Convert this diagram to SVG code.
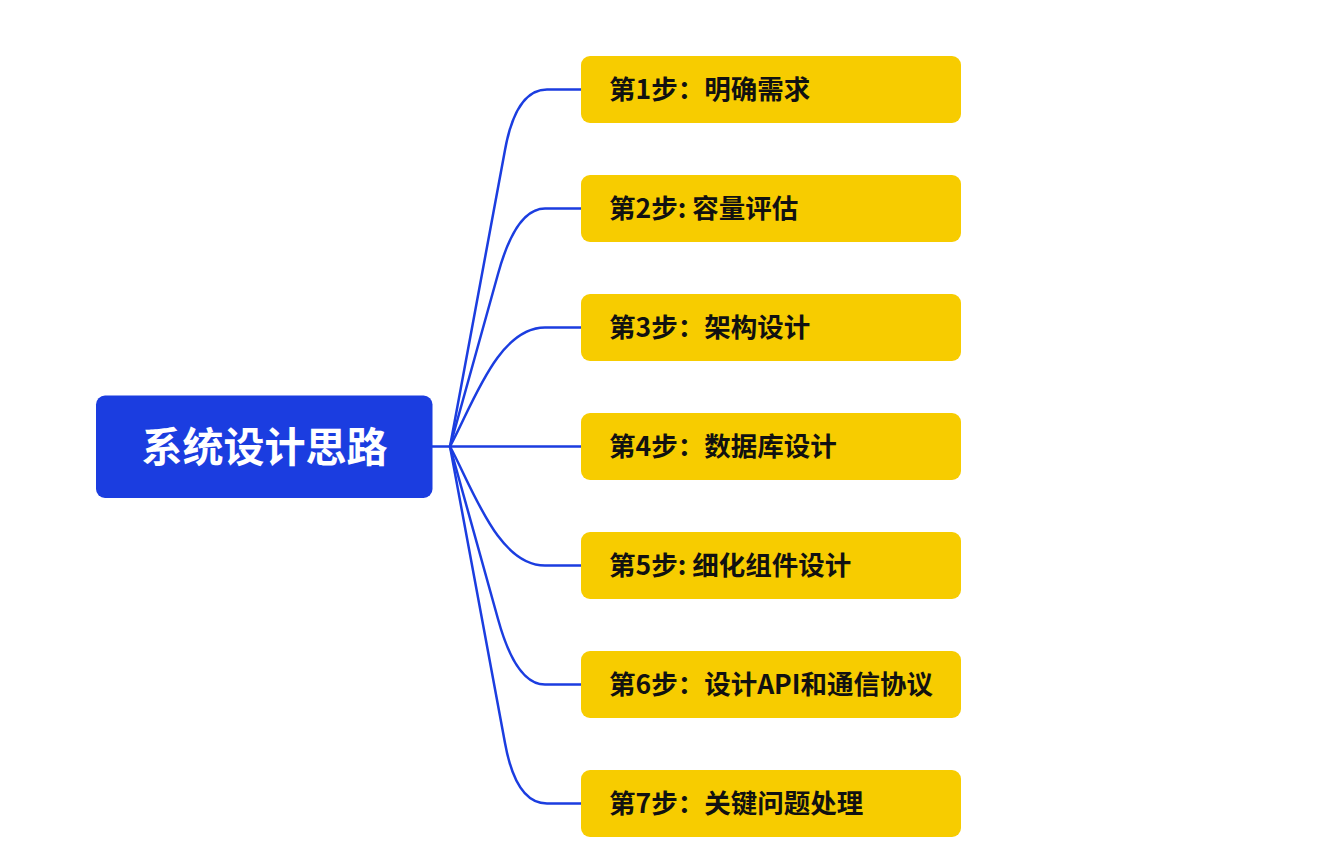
<svg xmlns="http://www.w3.org/2000/svg" width="1326" height="868" viewBox="0 0 1326 868">
<style>
.link{fill:none;stroke:#1b3de0;stroke-width:2.5;stroke-linecap:round;stroke-linejoin:round}
.step rect{fill:#f7cc00}
.step text{font-family:"Noto Sans CJK SC","Noto Sans",sans-serif;font-weight:700;font-size:26.5px;fill:#111}
.root rect{fill:#1b3de0}
.root text{font-family:"Noto Sans CJK SC","Noto Sans",sans-serif;font-weight:700;font-size:41px;fill:#fff}
</style>
<rect width="1326" height="868" fill="#fff"/>
<g id="connectors">
<path class="link" d="M432,446.5 H450"/>
<path class="link" d="M450,446.5 L505,150 Q516,89.5 547,89.5 H582"/>
<path class="link" d="M450,446.5 L498,274 Q516,208.5 545,208.5 H582"/>
<path class="link" d="M450,446.5 C473,404 498,327.5 545,327.5 H582"/>
<path class="link" d="M450,446.5 H582"/>
<path class="link" d="M450,446.5 C473,489 498,565.5 545,565.5 H582"/>
<path class="link" d="M450,446.5 L498,619 Q516,684.5 545,684.5 H582"/>
<path class="link" d="M450,446.5 L505,743 Q516,803.5 547,803.5 H582"/>
</g>
<g id="root" class="root">
<rect x="96" y="395.5" width="336.5" height="102.5" rx="9"/>
<text x="264.5" y="462" text-anchor="middle">系统设计思路</text>
</g>
<g id="step1" class="step"><rect x="581" y="56" width="380" height="67" rx="9"/><text x="609" y="99">第1步：明确需求</text></g>
<g id="step2" class="step"><rect x="581" y="175" width="380" height="67" rx="9"/><text x="609" y="218">第2步: 容量评估</text></g>
<g id="step3" class="step"><rect x="581" y="294" width="380" height="67" rx="9"/><text x="609" y="337">第3步：架构设计</text></g>
<g id="step4" class="step"><rect x="581" y="413" width="380" height="67" rx="9"/><text x="609" y="456">第4步：数据库设计</text></g>
<g id="step5" class="step"><rect x="581" y="532" width="380" height="67" rx="9"/><text x="609" y="575">第5步: 细化组件设计</text></g>
<g id="step6" class="step"><rect x="581" y="651" width="380" height="67" rx="9"/><text x="609" y="694">第6步：设计API和通信协议</text></g>
<g id="step7" class="step"><rect x="581" y="770" width="380" height="67" rx="9"/><text x="609" y="813">第7步：关键问题处理</text></g>
</svg>
